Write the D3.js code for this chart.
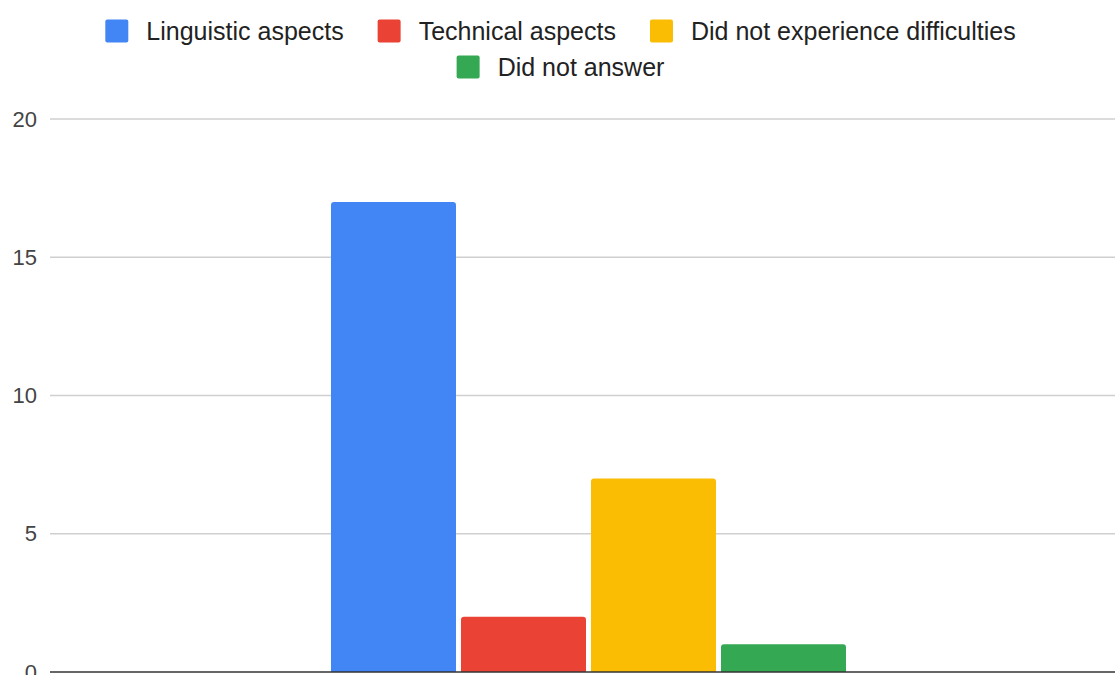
<!DOCTYPE html>
<html>
<head>
<meta charset="utf-8">
<script src="https://cdn.jsdelivr.net/npm/d3@7"></script>
<style>
  html, body { margin: 0; padding: 0; background: #fff; overflow: hidden; }
  svg { display: block; font-family: "Liberation Sans", Arial, sans-serif; }
</style>
</head>
<body>
<svg id="chart" width="1115" height="675"></svg>
<script>
// Survey responses: difficulties encountered
const categories = ["Difficulties"];
const seriesNames = ["Linguistic aspects", "Technical aspects", "Did not experience difficulties", "Did not answer"];
const seriesValues = [17, 2, 7, 1];
const seriesColors = ["#4285F4", "#EA4335", "#FBBC04", "#34A853"];
const yTicks = [0, 5, 10, 15, 20];

const W = 1115, H = 675;
const svg = d3.select("#chart");

const plot = { left: 50, right: 1127, top: 119, bottom: 672 };

const y = d3.scaleLinear().domain([0, 20]).range([plot.bottom, plot.top]);

const x0 = d3.scaleBand()
  .domain(categories)
  .range([plot.left, plot.right])
  .paddingInner(0)
  .paddingOuter(0.5456);

const x1 = d3.scaleBand()
  .domain(seriesNames)
  .range([0, x0.bandwidth()])
  .paddingInner(0.0385)
  .paddingOuter(0);

// gridlines
svg.append("g")
  .selectAll("line")
  .data(yTicks.filter(t => t !== 0))
  .join("line")
  .attr("x1", plot.left).attr("x2", W)
  .attr("y1", d => y(d)).attr("y2", d => y(d))
  .attr("stroke", "#cfcfcf").attr("stroke-width", 1.3);

// y tick labels
const yAxis = d3.axisLeft(y).tickValues(yTicks).tickSize(0).tickPadding(13);
const gy = svg.append("g").attr("transform", `translate(${plot.left},0)`).call(yAxis);
gy.select(".domain").remove();
gy.selectAll("text")
  .attr("font-size", 22)
  .attr("font-family", "'Liberation Sans', Arial, sans-serif")
  .attr("fill", "#444");

// bars with rounded top corners
function topRounded(x, yTop, w, h, r) {
  r = Math.min(r, h, w / 2);
  return `M${x},${yTop + h}V${yTop + r}Q${x},${yTop} ${x + r},${yTop}` +
         `H${x + w - r}Q${x + w},${yTop} ${x + w},${yTop + r}V${yTop + h}Z`;
}

const rows = seriesNames.map((s, i) => ({ cat: categories[0], name: s, value: seriesValues[i], color: seriesColors[i] }));

svg.append("g")
  .selectAll("path")
  .data(rows)
  .join("path")
  .attr("d", d => {
    const bx = x0(d.cat) + x1(d.name);
    const by = y(d.value);
    return topRounded(bx, by, x1.bandwidth(), y(0) - by, 3);
  })
  .attr("fill", d => d.color);

// baseline
svg.append("line")
  .attr("x1", plot.left).attr("x2", W)
  .attr("y1", y(0)).attr("y2", y(0))
  .attr("stroke", "#333").attr("stroke-width", 1.6);

// legend: two centered rows
const legendRows = [[0, 1, 2], [3]];
const rowY = [31, 67];
const sw = 23, gapIn = 18, gapOut = 34, fs = 25;
const legend = svg.append("g");
legendRows.forEach((idxs, r) => {
  const row = legend.append("g");
  let cx = 0;
  idxs.forEach(i => {
    const item = row.append("g").attr("transform", `translate(${cx},0)`);
    item.append("rect")
      .attr("x", 0).attr("y", rowY[r] - sw / 2)
      .attr("width", sw).attr("height", sw)
      .attr("rx", 2)
      .attr("fill", seriesColors[i]);
    const t = item.append("text")
      .attr("x", sw + gapIn).attr("y", rowY[r])
      .attr("dy", "0.35em")
      .attr("font-size", fs)
      .attr("fill", "#222")
      .text(seriesNames[i]);
    cx += sw + gapIn + t.node().getComputedTextLength() + gapOut;
  });
  const total = cx - gapOut;
  row.attr("transform", `translate(${(W - total) / 2 + 3},0)`);
});
</script>
</body>
</html>
